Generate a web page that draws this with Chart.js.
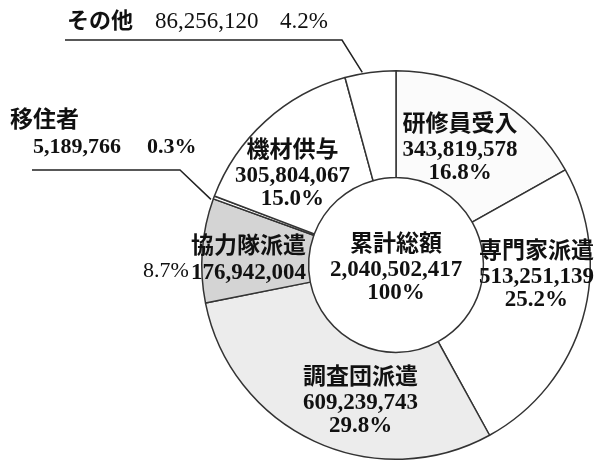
<!DOCTYPE html>
<html>
<head>
<meta charset="utf-8">
<script src="https://cdn.jsdelivr.net/npm/chart.js@4/dist/chart.umd.min.js"></script>
<style>
  html, body { margin: 0; padding: 0; background: #fff; }
  #wrap { width: 596px; height: 462px; position: relative; }
</style>
</head>
<body>
<div id="wrap"><canvas id="myChart" width="596" height="462"></canvas></div>
<script>
// data, clockwise from 12 o'clock
let categories = ['研修員受入', '専門家派遣', '調査団派遣', '協力隊派遣', '移住者', '機材供与', 'その他']
let amounts = [343819578, 513251139, 609239743, 176942004, 5189766, 305804067, 86256120]
let percents = ['16.8%', '25.2%', '29.8%', '8.7%', '0.3%', '15.0%', '4.2%']
let totalLabel = '累計総額'
let totalAmount = 2040502417
let totalPercent = '100%'

// looks
let fills = ['#fbfbfb', '#ffffff', '#ececec', '#d4d4d4', '#ffffff', '#ffffff', '#ffffff']
// where the inside labels sit, relative to the slice centre
let labelShift = [[-7, 7], [5, -27], [24, 10], [-7, 6], null, [-9, 15], null]
let serif = "'Liberation Serif', 'Noto Sans CJK JP', serif"

function fmt(n) { return n.toLocaleString('en-US') }

function block(ctx, lines, x, y) {
  ctx.fillText(lines[0], x, y - 25)
  ctx.fillText(lines[1], x, y)
  ctx.fillText(lines[2], x, y + 23)
}

const labelsPlugin = {
  id: 'labels',
  afterDraw(chart) {
    const ctx = chart.ctx
    const arcs = chart.getDatasetMeta(0).data
    ctx.save()
    ctx.fillStyle = '#111'
    ctx.strokeStyle = '#222'
    ctx.textBaseline = 'middle'

    // inside labels
    ctx.textAlign = 'center'
    arcs.forEach((arc, i) => {
      if (!labelShift[i]) return
      const p = arc.tooltipPosition()
      const x = p.x + labelShift[i][0]
      const y = p.y + labelShift[i][1]
      ctx.font = 'bold 23px ' + serif
      if (i === 3) {
        ctx.fillText(categories[i], x, y - 13)
        ctx.fillText(fmt(amounts[i]), x, y + 13)
        // its percent sits outside on the left
        ctx.font = '22px ' + serif
        ctx.textAlign = 'left'
        ctx.fillText(percents[i], 143, y + 11)
        ctx.textAlign = 'center'
      } else {
        block(ctx, [categories[i], fmt(amounts[i]), percents[i]], x, y)
      }
    })

    // centre text
    const c = arcs[0]
    ctx.font = 'bold 23px ' + serif
    block(ctx, [totalLabel, fmt(totalAmount), totalPercent], c.x, c.y + 5)

    // outside labels with leader lines
    function outerPoint(arc) {
      const mid = (arc.startAngle + arc.endAngle) / 2
      return { x: arc.x + Math.cos(mid) * arc.outerRadius, y: arc.y + Math.sin(mid) * arc.outerRadius }
    }
    ctx.textAlign = 'left'
    ctx.lineWidth = 1.5

    // その他
    let k = 6
    ctx.font = 'bold 22px ' + serif
    ctx.fillText(categories[k], 67, 22)
    ctx.font = '23px ' + serif
    ctx.fillText(fmt(amounts[k]), 155, 22)
    ctx.fillText(percents[k], 280, 22)
    let q = outerPoint(arcs[k])
    ctx.beginPath()
    ctx.moveTo(65, 40)
    ctx.lineTo(342, 40)
    ctx.lineTo(q.x - 8, q.y)
    ctx.stroke()

    // 移住者
    k = 4
    ctx.font = 'bold 23px ' + serif
    ctx.fillText(categories[k], 10, 121)
    ctx.font = 'bold 22px ' + serif
    ctx.fillText(fmt(amounts[k]), 33, 147)
    ctx.fillText(percents[k], 147, 147)
    q = outerPoint(arcs[k])
    ctx.beginPath()
    ctx.moveTo(32, 170)
    ctx.lineTo(180, 170)
    ctx.lineTo(q.x - 3, q.y + 2)
    ctx.stroke()

    ctx.restore()
  }
}

var ctx = document.getElementById('myChart').getContext('2d')

var chart = new Chart(ctx, {
  type: 'doughnut',
  data: {
    labels: categories,
    datasets: [{
      data: amounts,
      backgroundColor: fills,
      borderColor: '#333',
      borderWidth: 1.5
    }]
  },
  options: {
    responsive: false,
    animation: false,
    cutout: '45%',
    layout: { padding: { left: 201, right: 5, top: 70, bottom: 2 } },
    plugins: {
      legend: { display: false },
      tooltip: { enabled: false }
    }
  },
  plugins: [labelsPlugin]
})
</script>
</body>
</html>
